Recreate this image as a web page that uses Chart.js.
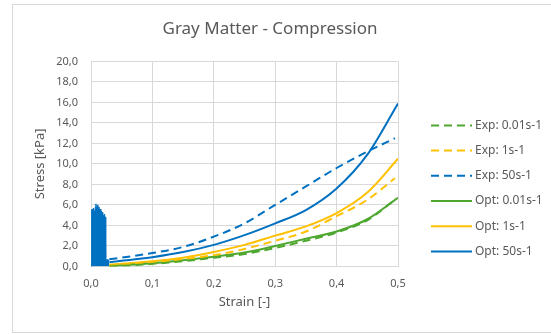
<!DOCTYPE html>
<html>
<head>
<meta charset="utf-8">
<script src="https://cdn.jsdelivr.net/npm/chart.js@4"></script>
<style>
  html, body { margin: 0; padding: 0; background: #fff; }
  #frame {
    position: absolute;
    left: 12px;
    top: 4px;
    width: 538px;
    height: 327px;
    border: 1px solid #d9d9d9;
  }
</style>
</head>
<body>
<div id="frame"><canvas id="stressChart" width="538" height="327"></canvas></div>
<script>
// strain points shared by the curves
const strain = [0.03, 0.05, 0.1, 0.15, 0.2, 0.25, 0.3, 0.35, 0.4, 0.45, 0.5];
const strainExp = [0.03, 0.05, 0.1, 0.15, 0.2, 0.25, 0.3, 0.35, 0.4, 0.45, 0.495];

// experimental stress [kPa]
const exp001 = [0.0, 0.05, 0.25, 0.5, 0.85, 1.2, 1.8, 2.5, 3.3, 4.5, 6.5];
const exp1 = [0.05, 0.15, 0.4, 0.7, 1.1, 1.7, 2.5, 3.4, 4.9, 6.5, 8.6];
const exp50 = [0.7, 0.85, 1.3, 1.9, 2.9, 4.2, 6.0, 7.8, 9.6, 11.2, 12.5];

// optimised model stress [kPa]
const opt001 = [0.05, 0.1, 0.3, 0.6, 0.95, 1.35, 2.0, 2.7, 3.4, 4.6, 6.7];
const opt1 = [0.15, 0.25, 0.5, 0.85, 1.4, 2.1, 3.0, 3.9, 5.2, 7.2, 10.5];
const opt50 = [0.4, 0.55, 0.9, 1.4, 2.1, 3.05, 4.2, 5.5, 7.6, 10.9, 15.9];

// noisy start of the 50s-1 test
const noiseStrain = [0.0, 0.001, 0.002, 0.003, 0.004, 0.005, 0.006, 0.007, 0.008, 0.009, 0.010, 0.011, 0.012, 0.013, 0.014, 0.015, 0.016, 0.017, 0.018, 0.019, 0.020, 0.021, 0.022, 0.023, 0.024, 0.025, 0.026, 0.028, 0.030];
const noiseStress = [0, 5.5, 5.6, 5.3, 5.7, 5.4, 5.1, 5.8, 6.1, 5.6, 5.9, 6.0, 5.7, 5.8, 5.5, 5.6, 5.3, 5.4, 5.2, 5.3, 4.9, 5.0, 5.1, 4.8, 0.8, 0.6, 0.7, 0.6, 0.7];

const yTicks = [0, 2, 4, 6, 8, 10, 12, 14, 16, 18, 20];
const xTicks = [0, 0.1, 0.2, 0.3, 0.4, 0.5];

const BLUE = '#0070C0';
const YELLOW = '#FFC000';
const GREEN = '#4EA72E';
const TEXT = '#595959';
const GRID = '#d9d9d9';
const FONT = "'Noto Sans', sans-serif";

const pts = (xs, ys) => xs.map((x, i) => ({ x: x, y: ys[i] }));
const comma = v => v.toFixed(1).replace('.', ',');

function line(label, xs, ys, color, dashed) {
  return {
    label: label,
    data: pts(xs, ys),
    borderColor: color,
    backgroundColor: color,
    borderWidth: 2,
    borderDash: dashed ? [8, 5] : [],
    pointRadius: 0,
    cubicInterpolationMode: 'monotone',
    fill: false
  };
}

// legend drawn to the right of the plot, one short line per series
const sideLegend = {
  id: 'sideLegend',
  afterDraw(chart) {
    const c = chart.ctx;
    const area = chart.chartArea;
    const x0 = area.right + 33;
    let y = area.top + 64;
    c.save();
    c.font = '12px ' + FONT;
    c.textBaseline = 'middle';
    chart.data.datasets.forEach(ds => {
      if (ds.label === 'noise') return;
      c.strokeStyle = ds.borderColor;
      c.lineWidth = ds.borderWidth;
      c.setLineDash(ds.borderDash);
      c.beginPath();
      c.moveTo(x0, y);
      c.lineTo(x0 + 41, y);
      c.stroke();
      c.setLineDash([]);
      c.fillStyle = TEXT;
      c.fillText(ds.label, x0 + 44, y);
      y += 25.2;
    });
    c.restore();
  }
};

const ctx = document.getElementById('stressChart').getContext('2d');
new Chart(ctx, {
  type: 'line',
  data: {
    datasets: [
      line('Exp: 0.01s-1', strainExp, exp001, GREEN, true),
      line('Exp: 1s-1', strainExp, exp1, YELLOW, true),
      line('Exp: 50s-1', strainExp, exp50, BLUE, true),
      line('Opt: 0.01s-1', strain, opt001, GREEN, false),
      line('Opt: 1s-1', strain, opt1, YELLOW, false),
      line('Opt: 50s-1', strain, opt50, BLUE, false),
      {
        label: 'noise',
        data: pts(noiseStrain, noiseStress),
        borderColor: BLUE,
        backgroundColor: BLUE,
        borderWidth: 1,
        pointRadius: 0,
        tension: 0,
        fill: 'origin'
      }
    ]
  },
  options: {
    responsive: false,
    animation: false,
    layout: { padding: { left: 15, right: 39, top: 0, bottom: 18 } },
    plugins: {
      title: {
        display: true,
        text: 'Gray Matter - Compression',
        color: TEXT,
        font: { family: FONT, size: 17, weight: 'normal' },
        padding: { top: 14, bottom: 22 }
      },
      legend: { display: false },
      tooltip: { enabled: false }
    },
    scales: {
      x: {
        type: 'linear',
        min: 0,
        max: 0.5,
        afterBuildTicks: axis => { axis.ticks = xTicks.map(v => ({ value: v })); },
        ticks: { color: TEXT, font: { family: FONT, size: 11, lineHeight: 1 }, callback: v => comma(v), padding: 12 },
        grid: { color: GRID, drawTicks: false },
        border: { color: GRID },
        title: { display: true, text: 'Strain [-]', color: TEXT, font: { family: FONT, size: 13 }, padding: { top: -7, bottom: 4 } }
      },
      y: {
        min: 0,
        max: 20,
        afterBuildTicks: axis => { axis.ticks = yTicks.map(v => ({ value: v })); },
        afterFit: axis => { axis.width = 63; },
        ticks: { color: TEXT, font: { family: FONT, size: 11 }, callback: v => comma(v), padding: 13 },
        grid: { color: GRID, drawTicks: false },
        border: { display: false },
        title: { display: true, text: 'Stress [kPa]', color: TEXT, font: { family: FONT, size: 13 } }
      },
      // empty axis that keeps room for the legend
      side: {
        type: 'linear',
        position: 'right',
        afterFit: axis => { axis.width = 114; },
        ticks: { display: false },
        grid: { display: false },
        border: { display: false }
      }
    }
  },
  plugins: [sideLegend]
});
</script>
</body>
</html>
